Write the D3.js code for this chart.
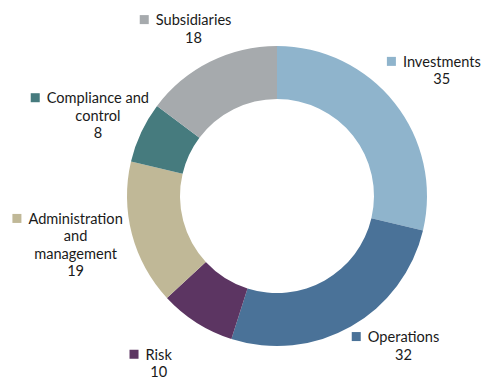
<!DOCTYPE html>
<html>
<head>
<meta charset="utf-8">
<script src="https://cdn.jsdelivr.net/npm/d3@7"></script>
<style>
  body { margin: 0; background: #fff; }
  text { font-family: Lato, "Open Sans", sans-serif; font-size: 14.6px; fill: #1a1a1a; }
</style>
</head>
<body>
<svg id="chart" width="484" height="379"></svg>
<script>
var width = 484,
    height = 379;

// data
var categories = ['Investments', 'Operations', 'Risk', 'Administration and management', 'Compliance and control', 'Subsidiaries'];
var values = [35, 32, 10, 19, 8, 18];
var labelLines = [['Investments'], ['Operations'], ['Risk'], ['Administration', 'and', 'management'], ['Compliance and', 'control'], ['Subsidiaries']];
var colors = ['#8fb4cc', '#4a7298', '#5c3562', '#c0b897', '#467b7e', '#a6aaad'];

// label nudges from the arc centroid (layout only)
var nudges = [[8, -5], [28, -28], [-11, -5], [-8, -23], [2, -8], [6, 8]];

var cx = 277, cy = 196,
    outerR = 150, innerR = 97, labelR = 200,
    lineH = 17.5;

var data = categories.map(function(c, i) {
  return { name: c, value: values[i], lines: labelLines[i], color: colors[i], nudge: nudges[i] };
});

var pie = d3.pie().sort(null).value(function(d) { return d.value; });
var arc = d3.arc().innerRadius(innerR).outerRadius(outerR);
var labelArc = d3.arc().innerRadius(labelR).outerRadius(labelR);

var svg = d3.select('#chart');
var g = svg.append('g').attr('transform', 'translate(' + cx + ',' + cy + ')');

var arcs = pie(data);

g.selectAll('path')
  .data(arcs)
  .enter()
  .append('path')
  .attr('d', arc)
  .attr('fill', function(d) { return d.data.color; });

var labels = g.selectAll('g.label')
  .data(arcs)
  .enter()
  .append('g')
  .attr('class', 'label')
  .attr('transform', function(d) {
    var c = labelArc.centroid(d);
    return 'translate(' + (c[0] + d.data.nudge[0]) + ',' + (c[1] + d.data.nudge[1]) + ')';
  });

labels.each(function(d) {
  var sel = d3.select(this);
  var lines = d.data.lines.concat([String(d.data.value)]);
  var t = sel.append('text').attr('text-anchor', 'middle');
  lines.forEach(function(l, i) {
    t.append('tspan').attr('x', 0).attr('y', i * lineH).text(l);
  });
  // legend square left of the first line
  var first = t.select('tspan').node();
  var w = first.getComputedTextLength();
  sel.append('rect')
    .attr('x', -w / 2 - 16)
    .attr('y', -10)
    .attr('width', 9)
    .attr('height', 9)
    .attr('fill', d.data.color);
});
</script>
</body>
</html>
